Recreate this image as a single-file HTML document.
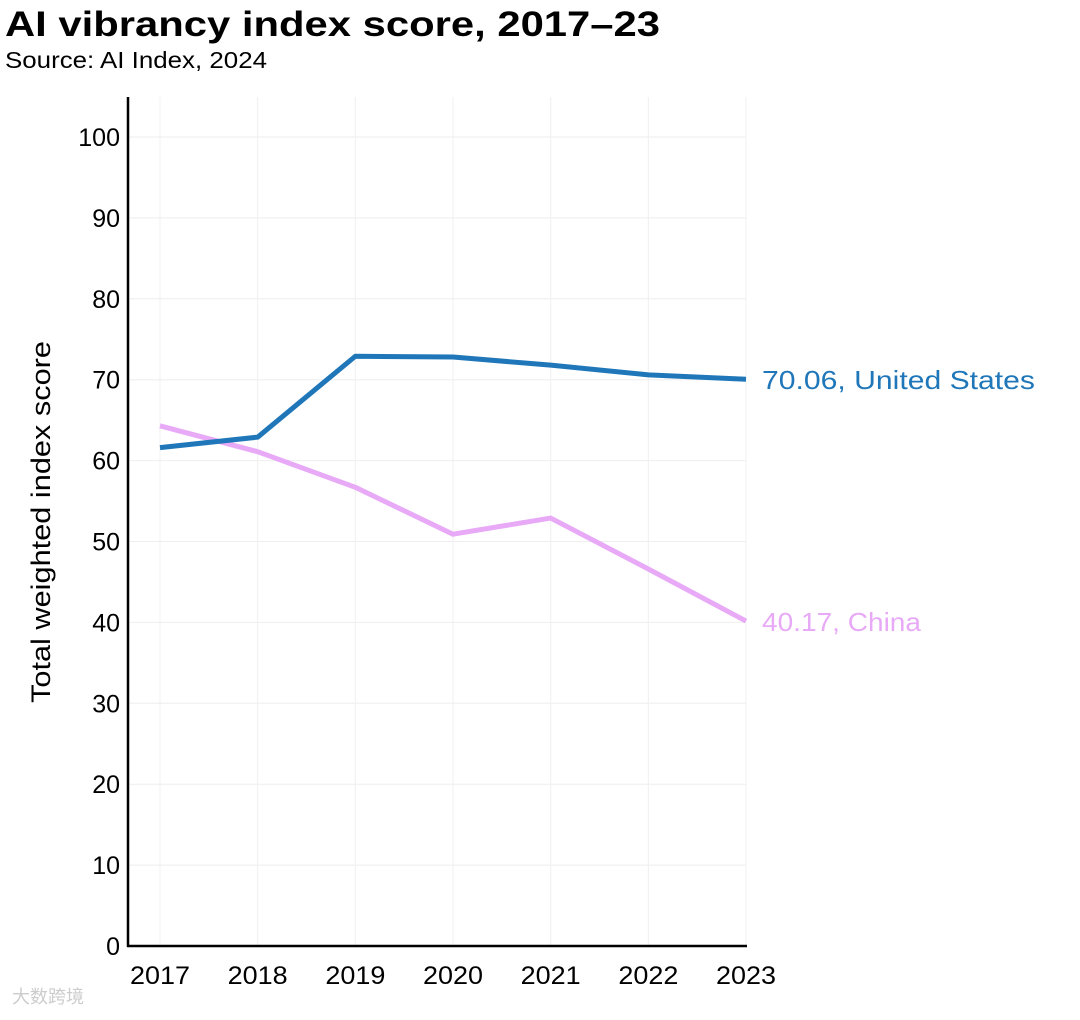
<!DOCTYPE html>
<html><head><meta charset="utf-8"><style>
body{margin:0;background:#fff;font-family:"Liberation Sans","Noto Sans CJK SC",sans-serif;}
svg text{font-family:"Liberation Sans","Noto Sans CJK SC",sans-serif;}
</style></head><body>
<svg id="chart" width="1080" height="1015">
<text x="5" y="36" font-size="35" font-weight="bold" fill="#000" textLength="655" lengthAdjust="spacingAndGlyphs">AI vibrancy index score, 2017–23</text>
<text x="5" y="68" font-size="23" fill="#000" textLength="262" lengthAdjust="spacingAndGlyphs">Source: AI Index, 2024</text>
<text transform="translate(50,522) rotate(-90)" text-anchor="middle" font-size="27" fill="#000" textLength="362" lengthAdjust="spacingAndGlyphs">Total weighted index score</text>
<g id="grid"></g><g id="ticks"></g><g id="lines"></g>
<text x="12" y="1003" font-size="18" fill="#ccc">大数跨境</text>
</svg>
<script>
const years=[2017,2018,2019,2020,2021,2022,2023];
const usValues=[61.6,62.9,72.9,72.8,71.8,70.6,70.06];
const chinaValues=[64.3,61.1,56.7,50.9,52.9,46.6,40.17];
const yTicks=[0,10,20,30,40,50,60,70,80,90,100];
const seriesLabels=["70.06, United States","40.17, China"];
const NS="http://www.w3.org/2000/svg";
const x=v=>160+(v-2017)*(746-160)/6;
const y=v=>946-v*8.09;
function mk(tag,attrs,parent){const e=document.createElementNS(NS,tag);for(const k in attrs)e.setAttribute(k,attrs[k]);document.getElementById(parent).appendChild(e);return e;}
yTicks.forEach(t=>{
 if(t>0){const g=mk('line',{x1:128,x2:746,y1:y(t),y2:y(t),stroke:'#eee','stroke-width':1},'grid');
 
 }
 const l=mk('text',{x:120,y:y(t)+9,'text-anchor':'end','font-size':25,fill:'#000'},'ticks');l.textContent=t;
 
 
});
years.forEach(yr=>{
 const g=mk('line',{x1:x(yr),x2:x(yr),y1:97,y2:946,stroke:'#f0f0f0','stroke-width':1},'grid');
 
 
 const l=mk('text',{x:x(yr),y:984,'text-anchor':'middle','font-size':25,fill:'#000',textLength:60,lengthAdjust:'spacingAndGlyphs'},'ticks');l.textContent=yr;
 
 
});
const ya=mk('line',{x1:128,x2:128,y1:97,y2:947,stroke:'#000','stroke-width':2.5},'ticks');


const xa=mk('line',{x1:127,x2:747,y1:946,y2:946,stroke:'#000','stroke-width':2.5},'ticks');


function series(vals,color,name,label,len){
 const p=mk('polyline',{points:vals.map((v,i)=>x(years[i])+','+y(v)).join(' '),fill:'none',stroke:color,'stroke-width':5,'stroke-linejoin':'round'},'lines');
 
 
 const t=mk('text',{x:762,y:y(vals[vals.length-1])+10,'font-size':26,fill:color,textLength:len,lengthAdjust:'spacingAndGlyphs'},'lines');t.textContent=label;
 
 
}
series(chinaValues,'#e8a9f7','china',seriesLabels[1],159);
series(usValues,'#1f77b9','us',seriesLabels[0],273);
</script>
</body></html>
